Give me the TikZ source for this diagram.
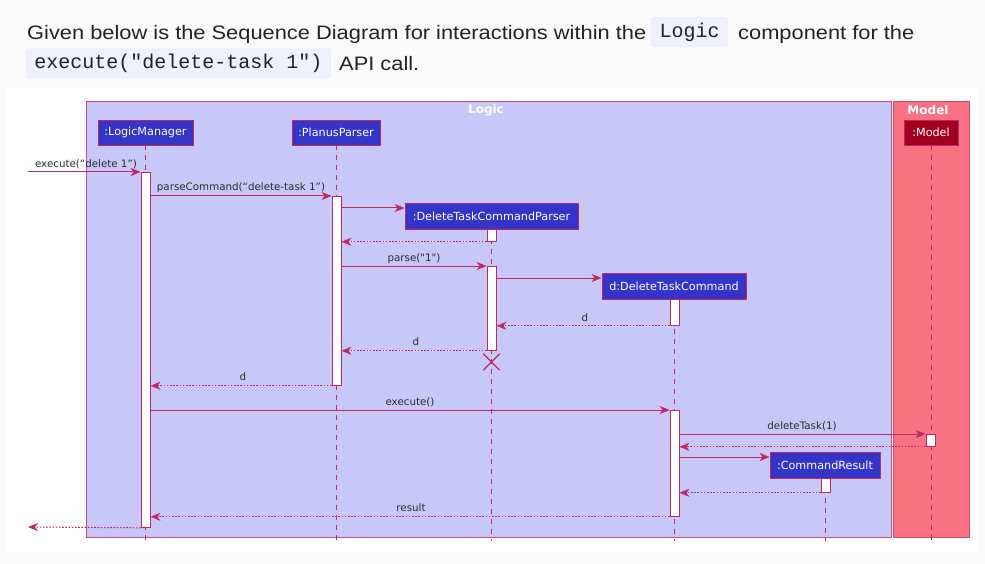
\documentclass[tikz,border=0pt]{standalone}
\usepackage{fontspec}
\setmainfont{Liberation Sans}
\newfontfamily\hdfont[FakeStretch=1.12]{Liberation Sans}
\newfontfamily\codefont{Liberation Mono}
\newfontfamily\lblfont{DejaVu Sans}
\usetikzlibrary{arrows.meta}
\definecolor{pagebg}{HTML}{FAFAFA}
\definecolor{codebg}{HTML}{EEF0FA}
\definecolor{codeln}{HTML}{E2E4F0}
\definecolor{txt}{HTML}{1F2328}
\definecolor{logicfill}{HTML}{C8C8F8}
\definecolor{modelfill}{HTML}{F87282}
\definecolor{frameln}{HTML}{D04A72}
\definecolor{partfill}{HTML}{3434C8}
\definecolor{modelpart}{HTML}{A0001E}
\definecolor{ln}{HTML}{C02860}
\definecolor{lbl}{HTML}{2A2A2A}
\tikzset{
  x=1pt, y=-1pt,
  hdtext/.style={inner sep=0pt, font=\hdfont\fontsize{19.5}{24}\selectfont, text=txt},
  codebox/.style={draw=codeln, fill=codebg, rounded corners=3pt, inner xsep=8pt, inner ysep=0pt, minimum height=29pt, font=\codefont\fontsize{20}{24}\selectfont, text=txt},
  part/.style={draw=ln, line width=0.8pt, fill=partfill, text=white, inner sep=0pt, minimum height=25pt, font=\lblfont\fontsize{11.2}{13}\selectfont},
  mpart/.style={part, fill=modelpart},
  act/.style={draw=ln, line width=0.8pt, fill=white, minimum width=9pt, inner sep=0pt},
  life/.style={draw=ln, line width=0.8pt, dash pattern=on 5pt off 5pt},
  msg/.style={draw=ln, line width=1pt, -{Stealth[length=10pt,width=8pt,inset=3pt]}},
  ret/.style={msg, dash pattern=on 1.6pt off 1.6pt},
  mlabel/.style={inner sep=0pt, text=lbl, font=\lblfont\fontsize{10.3}{12}\selectfont},
  frametitle/.style={inner sep=0pt, text=white, font=\lblfont\bfseries\fontsize{12}{14}\selectfont},
}
\begin{document}
\begin{tikzpicture}
\useasboundingbox (0,0) rectangle (985,564);
\fill[pagebg] (0,0) rectangle (985,564);
\fill[white] (7,88) rectangle (977,552);
% header text
\node[hdtext, anchor=base west] (t1) at (27,40) {Given below is the Sequence Diagram for interactions within the};
\node[codebox] (c1) at (689.5,32) {Logic};
\node[hdtext, anchor=base west] (t2) at (738,40) {component for the};
\node[codebox] (c2) at (178.5,63.5) {execute("delete-task 1")};
\node[hdtext, anchor=base west] (t3) at (339,71) {API call.};
% frames
\draw[frameln, line width=0.8pt, fill=logicfill] (86,101) rectangle (891,537);
\draw[frameln, line width=0.8pt, fill=modelfill] (893,101) rectangle (969,537);
\node[frametitle] (logicT) at (486,110) {Logic};
\node[frametitle] (modelT) at (928,110) {Model};
% participants
\node[part, minimum width=95pt] (lm) at (145.5,132.5) {:LogicManager};
\node[part, minimum width=88pt] (pp) at (336,132.5) {:PlanusParser};
\node[mpart, minimum width=54pt] (md) at (931,132.5) {:Model};
\node[part, minimum width=173pt, minimum height=26pt] (dtcp) at (491.5,216) {:DeleteTaskCommandParser};
\node[part, minimum width=144pt, minimum height=26pt] (dtc) at (674,286) {d:DeleteTaskCommand};
\node[part, minimum width=110pt, minimum height=26pt] (cr) at (825,465) {:CommandResult};
\coordinate (bot) at (0,541);
% lifelines
\draw[life] (lm.south) -- (lm.south |- bot);
\draw[life] (pp.south) -- (pp.south |- bot);
\draw[life] (md.south) -- (md.south |- bot);
\draw[life] (dtcp.south) -- (dtcp.south |- bot);
\draw[life] (dtc.south) -- (dtc.south |- bot);
\draw[life] (cr.south) -- (cr.south |- bot);
% activations
\node[act, minimum height=355pt, anchor=north] (lmA) at (145.5,172) {};
\node[act, minimum height=189pt, anchor=north] (ppA) at (336.5,196) {};
\node[act, minimum height=12pt, anchor=north] (dtcpA1) at (491.5,229) {};
\node[act, minimum height=84pt, anchor=north] (dtcpA2) at (491.5,266) {};
\node[act, minimum height=26pt, anchor=north] (dtcA1) at (674.5,299) {};
\node[act, minimum height=106pt, anchor=north] (dtcA2) at (674.5,410) {};
\node[act, minimum height=12pt, anchor=north] (mdA) at (930.5,434) {};
\node[act, minimum height=14pt, anchor=north] (crA) at (825.5,478) {};
% destroy
\node[inner sep=0pt, minimum size=16pt] (xx) at (491.5,362) {};
\draw[ln, line width=1.2pt] (xx.north west) -- (xx.south east) (xx.north east) -- (xx.south west);
% messages
\coordinate (extIn) at (28,172);
\coordinate (extOut) at (28,527);
\draw[msg] (extIn) -- (lmA.north west);
\node[mlabel] (l1) at (86,164) {execute(“delete 1”)};
\draw[msg] (lmA.east |- ppA.north) -- (ppA.north west);
\node[mlabel] (l2) at (241,188) {parseCommand(“delete-task 1”)};
\coordinate (m3) at ([yshift=8pt]dtcp.west);
\draw[msg] (ppA.east |- m3) -- (m3);
\draw[ret] (dtcpA1.south west) -- (ppA.east |- dtcpA1.south);
\draw[msg] (ppA.east |- dtcpA2.north) -- (dtcpA2.north west);
\node[mlabel] (l3) at (414,259) {parse("1")};
\coordinate (m6) at ([yshift=8pt]dtc.west);
\draw[msg] (dtcpA2.east |- m6) -- (m6);
\draw[ret] (dtcA1.south west) -- (dtcpA2.east |- dtcA1.south);
\node[mlabel] (l4) at (585,318) {d};
\draw[ret] (dtcpA2.south west) -- (ppA.east |- dtcpA2.south);
\node[mlabel] (l5) at (416,342) {d};
\draw[ret] (ppA.south west) -- (lmA.east |- ppA.south);
\node[mlabel] (l6) at (243,377) {d};
\draw[msg] (lmA.east |- dtcA2.north) -- (dtcA2.north west);
\node[mlabel] (l7) at (410,402) {execute()};
\draw[msg] (dtcA2.east |- mdA.north) -- (mdA.north west);
\node[mlabel] (l8) at (802,426) {deleteTask(1)};
\draw[ret] (mdA.south west) -- (dtcA2.east |- mdA.south);
\coordinate (m13) at ([yshift=8pt]cr.west);
\draw[msg] (dtcA2.east |- m13) -- (m13);
\draw[ret] (crA.south west) -- (dtcA2.east |- crA.south);
\draw[ret] (dtcA2.south west) -- (lmA.east |- dtcA2.south);
\node[mlabel] (l9) at (411,508) {result};
\draw[ret] (lmA.south west) -- (extOut);
\end{tikzpicture}
\end{document}
